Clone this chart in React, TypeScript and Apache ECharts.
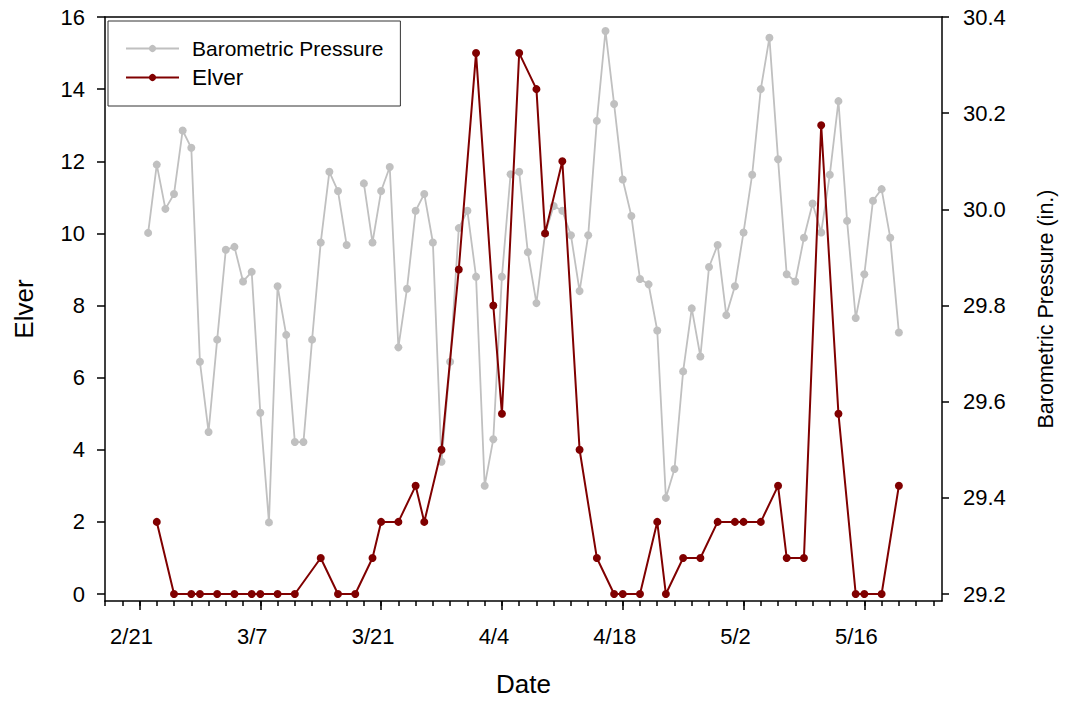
import React, { useEffect, useRef } from "react";
import * as echarts from "echarts";

// ---- data ----
const pressureDates = [
  "2/22", "2/23", "2/24", "2/25", "2/26", "2/27", "2/28", "3/1", "3/2", "3/3",
  "3/4", "3/5", "3/6", "3/7", "3/8", "3/9", "3/10", "3/11", "3/12", "3/13",
  "3/14", "3/15", "3/16", "3/17", "3/18", "3/19", "3/20", "3/21", "3/22", "3/23",
  "3/24", "3/25", "3/26", "3/27", "3/28", "3/29", "3/30", "3/31", "4/1", "4/2",
  "4/3", "4/4", "4/5", "4/6", "4/7", "4/8", "4/9", "4/10", "4/11", "4/12",
  "4/13", "4/14", "4/15", "4/16", "4/17", "4/18", "4/19", "4/20", "4/21", "4/22",
  "4/23", "4/24", "4/25", "4/26", "4/27", "4/28", "4/29", "4/30", "5/1", "5/2",
  "5/3", "5/4", "5/5", "5/6", "5/7", "5/8", "5/9", "5/10", "5/11", "5/12",
  "5/13", "5/14", "5/15", "5/16", "5/17", "5/18", "5/19", "5/20",
];
const pressureValues: (number | null)[] = [
  29.951, 30.093, 30.001, 30.032, 30.164, 30.128, 29.683, 29.537, 29.729, 29.916,
  29.922, 29.850, 29.870, 29.577, 29.349, 29.840, 29.739, 29.516, 29.516, 29.729,
  29.931, 30.078, 30.038, 29.926, null, 30.054, 29.931, 30.038, 30.088, 29.713,
  29.835, 29.997, 30.032, 29.931, 29.475, 29.683, 29.961, 29.997, 29.860, 29.425,
  29.522, 29.860, 30.073, 30.078, 29.911, 29.805, 29.950, 30.007, 29.997, 29.946,
  29.830, 29.946, 30.184, 30.371, 30.219, 30.062, 29.986, 29.855, 29.844, 29.748,
  29.400, 29.460, 29.663, 29.794, 29.694, 29.880, 29.926, 29.780, 29.840, 29.952,
  30.072, 30.250, 30.357, 30.104, 29.865, 29.850, 29.941, 30.012, 29.952, 30.072,
  30.225, 29.976, 29.774, 29.865, 30.018, 30.042, 29.941, 29.744,
];

const elverDates = [
  "2/23", "2/25", "2/27", "2/28", "3/2", "3/4", "3/6", "3/7", "3/9", "3/11",
  "3/14", "3/16", "3/18", "3/20", "3/21", "3/23", "3/25", "3/26", "3/28", "3/30",
  "4/1", "4/3", "4/4", "4/6", "4/8", "4/9", "4/11", "4/13", "4/15", "4/17",
  "4/18", "4/20", "4/22", "4/23", "4/25", "4/27", "4/29", "5/1", "5/2", "5/4",
  "5/6", "5/7", "5/9", "5/11", "5/13", "5/15", "5/16", "5/18", "5/20",
];
const elverValues = [
  2, 0, 0, 0, 0, 0, 0, 0, 0, 0,
  1, 0, 0, 1, 2, 2, 3, 2, 4, 9,
  15, 8, 5, 15, 14, 10, 12, 4, 1, 0,
  0, 0, 2, 0, 1, 1, 2, 2, 2, 2,
  3, 1, 1, 13, 5, 0, 0, 0, 3,
];

const xStartDate = "2/17";
const xEndDate = "5/25";
const majorTickDates = ["2/21", "3/7", "3/21", "4/4", "4/18", "5/2", "5/16"];
const elverTicks = [0, 2, 4, 6, 8, 10, 12, 14, 16];
const pressureTicks = [29.2, 29.4, 29.6, 29.8, 30.0, 30.2, 30.4];

// ---- date helpers (non-leap year, day 0 = 2/17) ----
const monthOffset: Record<number, number> = { 2: -17, 3: 11, 4: 42, 5: 72 };
function dayOf(s: string): number {
  const [m, d] = s.split("/").map(Number);
  return monthOffset[m] + d;
}
function labelOf(day: number): string {
  const months = [5, 4, 3, 2];
  for (const m of months) {
    const d = day - monthOffset[m];
    if (d >= 1) return m + "/" + d;
  }
  return "";
}

const FONT = "'Liberation Sans', Arial, Helvetica, sans-serif";

export default function App() {
  const ref = useRef<HTMLDivElement>(null);

  useEffect(() => {
    document.body.style.margin = "0";
    if (!ref.current) return;
    const chart = echarts.init(ref.current, undefined, { renderer: "svg" });

    const x0 = dayOf(xStartDate);
    const x1 = dayOf(xEndDate);
    const minorTicks: number[] = [];
    for (let d = x0; d < x1; d += 2) minorTicks.push(d);
    const majorTicks = majorTickDates.map(dayOf);

    // y-axes extend 7px below the zero line (axis offset style)
    const elverMin = -0.1934;
    const pressMin = 29.2 + elverMin * 0.075;

    const pressureData = pressureDates.map((d, i) => [
      dayOf(d),
      pressureValues[i] === null ? "-" : pressureValues[i],
    ]);
    const elverData = elverDates.map((d, i) => [dayOf(d), elverValues[i]]);

    const axisLineStyle = { color: "#000", width: 1.5 };
    const tickLine = { color: "#000", width: 1.5 };

    chart.setOption({
      animation: false,
      textStyle: { fontFamily: FONT, color: "#000" },
      grid: { left: 105, right: 126, top: 17, bottom: 99, containLabel: false },
      legend: {
        orient: "vertical",
        left: 108,
        top: 21,
        padding: [17, 17, 17, 17],
        itemGap: 7,
        itemWidth: 53,
        itemHeight: 9,
        borderColor: "#333",
        borderWidth: 1,
        textStyle: { fontFamily: FONT, color: "#000", padding: [0, 0, 0, 8] },
        data: [
          { name: "Barometric Pressure", textStyle: { fontSize: 21 } },
          { name: "Elver", textStyle: { fontSize: 22.5 } },
        ],
      },
      xAxis: [
        {
          type: "value",
          min: x0,
          max: x1,
          position: "bottom",
          axisLine: { show: true, onZero: false, lineStyle: axisLineStyle },
          axisTick: { show: true, customValues: minorTicks, length: 5, lineStyle: tickLine },
          axisLabel: { show: false },
          splitLine: { show: false },
        },
        {
          type: "value",
          min: x0,
          max: x1,
          position: "bottom",
          axisLine: { show: false, onZero: false },
          axisTick: { show: true, customValues: majorTicks, length: 9, lineStyle: tickLine },
          axisLabel: {
            show: true,
            customValues: majorTicks,
            formatter: (v: number) => labelOf(v),
            fontSize: 22,
            fontFamily: FONT,
            color: "#000",
            margin: 24,
            padding: [0, 16, 0, 0],
          },
          splitLine: { show: false },
          name: "Date",
          nameLocation: "middle",
          nameGap: 70,
          nameTextStyle: { fontSize: 26, fontFamily: FONT, color: "#000" },
        },
        {
          type: "value",
          min: x0,
          max: x1,
          position: "top",
          axisLine: { show: true, onZero: false, lineStyle: axisLineStyle },
          axisTick: { show: false },
          axisLabel: { show: false },
          splitLine: { show: false },
        },
      ],
      yAxis: [
        {
          type: "value",
          min: elverMin,
          max: 16,
          position: "left",
          axisLine: { show: true, onZero: false, lineStyle: axisLineStyle },
          axisTick: { show: true, customValues: elverTicks, length: 8, lineStyle: tickLine },
          axisLabel: {
            customValues: elverTicks,
            fontSize: 22,
            fontFamily: FONT,
            color: "#000",
            margin: 20,
          },
          splitLine: { show: false },
          name: "Elver",
          nameLocation: "middle",
          nameGap: 68,
          nameRotate: 90,
          nameTextStyle: { fontSize: 26, fontFamily: FONT, color: "#000" },
        },
        {
          type: "value",
          min: pressMin,
          max: 30.4,
          position: "right",
          axisLine: { show: true, onZero: false, lineStyle: axisLineStyle },
          axisTick: { show: true, customValues: pressureTicks, length: 7, lineStyle: tickLine },
          axisLabel: {
            customValues: pressureTicks,
            formatter: (v: number) => v.toFixed(1),
            fontSize: 22,
            fontFamily: FONT,
            color: "#000",
            margin: 21,
          },
          splitLine: { show: false },
          name: "Barometric Pressure (in.)",
          nameLocation: "middle",
          nameGap: 93,
          nameRotate: 90,
          nameTextStyle: { fontSize: 21.5, fontFamily: FONT, color: "#000" },
        },
      ],
      series: [
        {
          name: "Barometric Pressure",
          type: "line",
          xAxisIndex: 0,
          yAxisIndex: 1,
          data: pressureData,
          connectNulls: false,
          symbol: "circle",
          symbolSize: 8,
          showAllSymbol: true,
          lineStyle: { color: "#c0c0c0", width: 1.8 },
          itemStyle: { color: "#c0c0c0" },
          z: 2,
        },
        {
          name: "Elver",
          type: "line",
          xAxisIndex: 0,
          yAxisIndex: 0,
          data: elverData,
          symbol: "circle",
          symbolSize: 8,
          showAllSymbol: true,
          lineStyle: { color: "#800000", width: 2 },
          itemStyle: { color: "#800000" },
          z: 3,
        },
      ],
    });

    return () => chart.dispose();
  }, []);

  return <div ref={ref} style={{ width: 1068, height: 702 }} />;
}
